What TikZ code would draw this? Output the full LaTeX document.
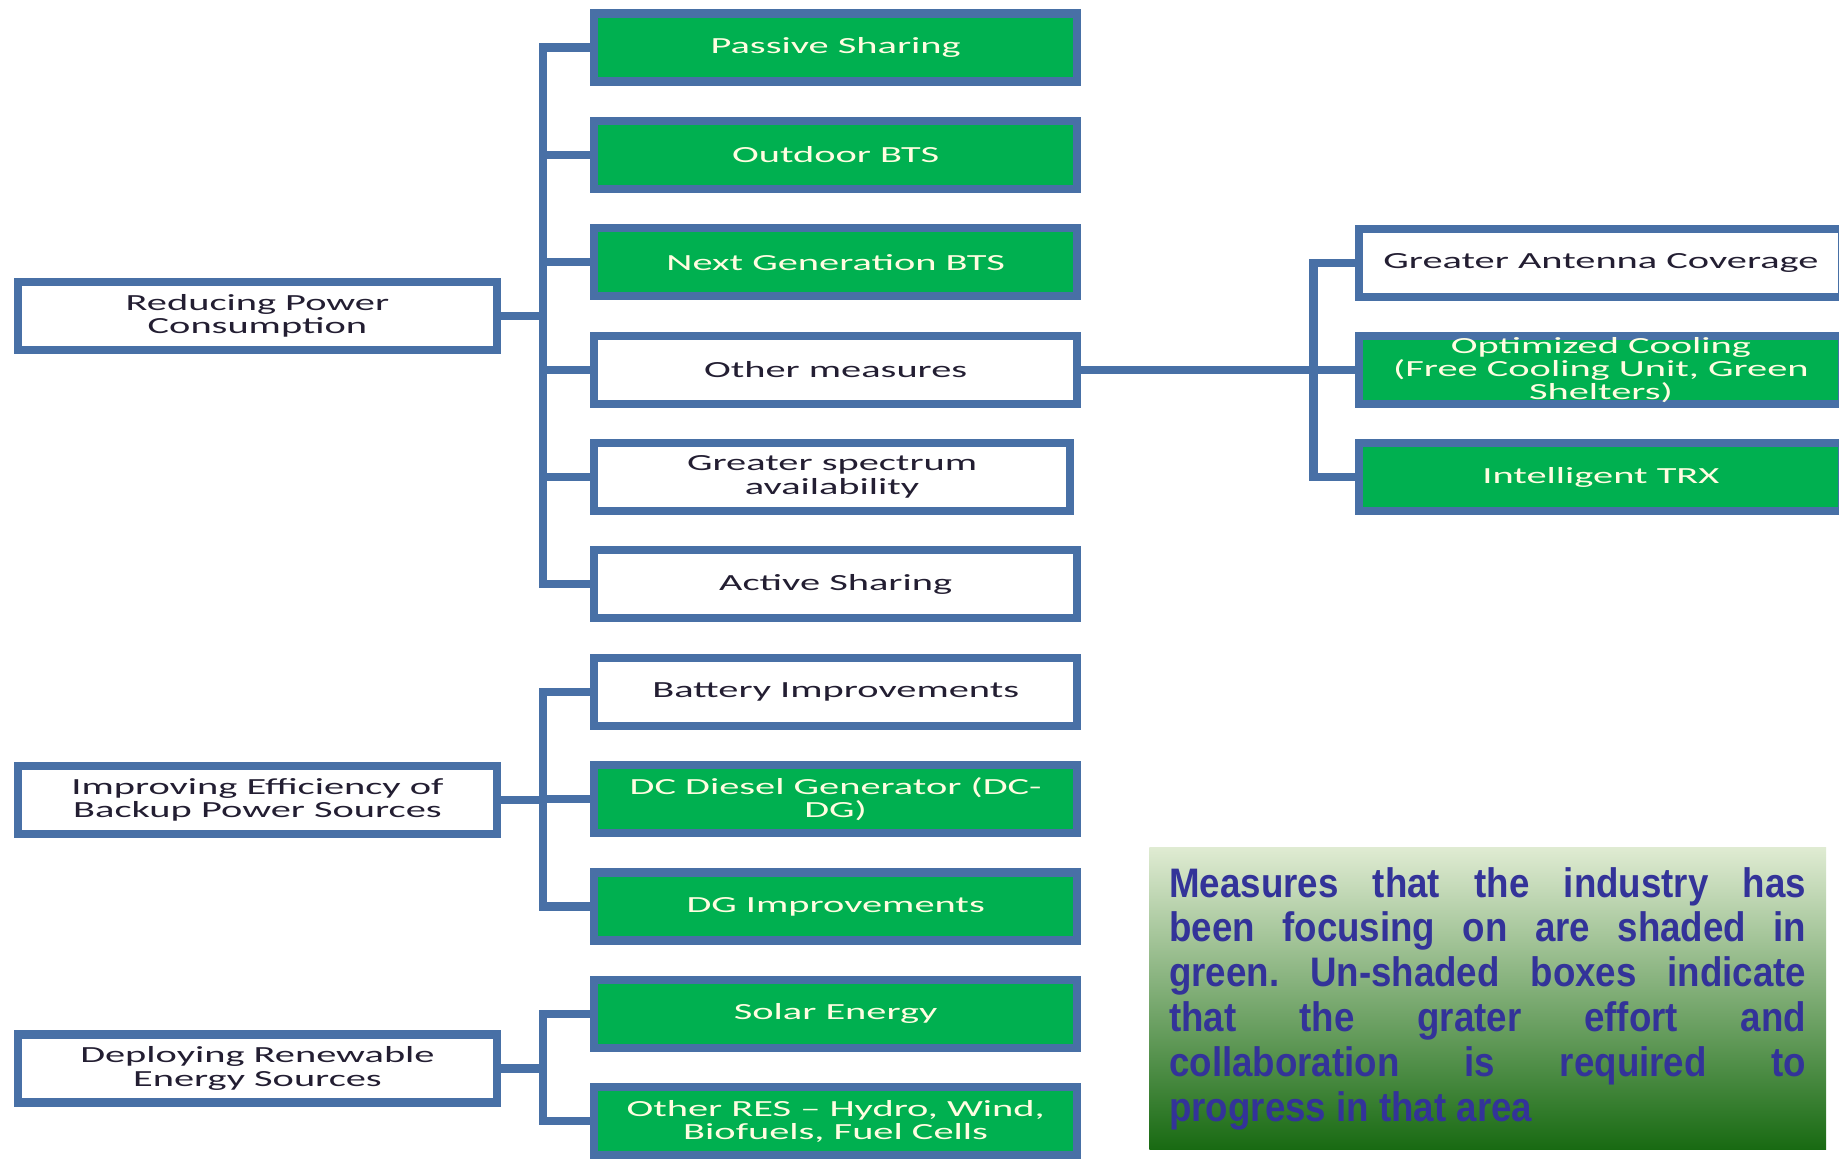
\documentclass[tikz,border=0pt]{standalone}
\usepackage{fontspec}
\newfontfamily\boxfont{Carlito}[FakeStretch=1.75]
\newfontfamily\notefont{Liberation Sans}[FakeStretch=0.89]
\usetikzlibrary{calc}
\definecolor{boxblue}{RGB}{72,112,166}
\definecolor{boxgreen}{RGB}{0,176,80}
\definecolor{notetext}{RGB}{51,51,153}
\definecolor{greentext}{RGB}{255,253,225}
\definecolor{darktext}{RGB}{35,30,50}
\tikzset{
  box/.style={draw=boxblue, line width=5pt, minimum width=10.3cm, minimum height=1.45cm,
    align=center, inner sep=0pt, font=\boxfont\fontsize{14}{14.2}\selectfont},
  plainbox/.style={box, fill=white, text=darktext},
  greenbox/.style={box, fill=boxgreen, text=greentext},
  link/.style={draw=boxblue, line width=5pt},
}

\begin{document}
\frenchspacing
\begin{tikzpicture}[x=0.025cm, y=-0.025cm]
  \useasboundingbox[fill=white] (0,0) rectangle (1568,988);
  %%%%% MIDDLE COLUMN %%%%%
  \node[greenbox] (passive) at (712.5, 40.5) {Passive Sharing};
  \node[greenbox] (outdoor) at (712.5, 132) {Outdoor BTS};
  \node[greenbox] (nextgen) at (712.5, 223.6) {Next Generation BTS};
  \node[plainbox] (other) at (712.5, 315.2) {Other measures};
  \node[plainbox, minimum width=10.15cm] (spectrum) at (709.5, 406.7) {Greater spectrum\\availability};
  \node[plainbox] (active) at (712.5, 498.2) {Active Sharing};
  \node[plainbox] (battery) at (712.5, 589.8) {Battery Improvements};
  \node[greenbox] (dcdg) at (712.5, 681.3) {DC Diesel Generator (DC-\\DG)};
  \node[greenbox] (dgimp) at (712.5, 772.9) {DG Improvements};
  \node[greenbox] (solar) at (712.5, 864.4) {Solar Energy};
  \node[greenbox] (otherres) at (712.5, 956) {Other RES – Hydro, Wind,\\Biofuels, Fuel Cells};
  
  %%%%% LEFT COLUMN %%%%%
  \node[plainbox, minimum width=10.2cm] (reduce) at (219.5, 269.5) {Reducing Power\\Consumption};
  \node[plainbox, minimum width=10.2cm] (backup) at (219.5, 682) {Improving Efficiency of\\Backup Power Sources};
  \node[plainbox, minimum width=10.2cm] (renew) at (219.5, 911) {Deploying Renewable\\Energy Sources};
  
  %%%%% RIGHT COLUMN %%%%%
  \node[plainbox] (antenna) at (1365, 224) {Greater Antenna Coverage};
  \node[greenbox] (cooling) at (1365, 315.5) {Optimized Cooling\\(Free Cooling Unit, Green\\Shelters)};
  \node[greenbox] (trx) at (1365, 407) {Intelligent TRX};
  
  %%%%% CONNECTORS %%%%%
  \coordinate (busA) at (463, 0);
  \coordinate (busB) at (1120, 0);
  
  \draw[link] (reduce.east) -- (reduce.east -| busA);
  \draw[link] (passive.west) -- (passive.west -| busA) -- (active.west -| busA) -- (active.west);
  \foreach \n in {outdoor, nextgen, other, spectrum}
    \draw[link] (\n.west -| busA) -- (\n.west);
  
  \draw[link] (backup.east) -- (backup.east -| busA);
  \draw[link] (battery.west) -- (battery.west -| busA) -- (dgimp.west -| busA) -- (dgimp.west);
  \draw[link] (dcdg.west -| busA) -- (dcdg.west);
  
  \draw[link] (renew.east) -- (renew.east -| busA);
  \draw[link] (solar.west) -- (solar.west -| busA) -- (otherres.west -| busA) -- (otherres.west);
  
  \draw[link] (other.east) -- (other.east -| busB);
  \draw[link] (antenna.west) -- (antenna.west -| busB) -- (trx.west -| busB) -- (trx.west);
  \draw[link] (cooling.west -| busB) -- (cooling.west);
  
  %%%%% NOTE %%%%%
  \node[top color={rgb,255:red,223;green,235;blue,210}, bottom color={rgb,255:red,24;green,106;blue,18},
    minimum width=14.425cm, minimum height=6.425cm, text width=13.575cm, inner xsep=0.425cm,
    align=justify, text=notetext, font=\notefont\bfseries\fontsize{25}{27.2}\selectfont]
    (note) at (1268.5, 851.5)
    {Measures that the industry has\linebreak been focusing on are shaded in\linebreak green. Un-shaded boxes indicate\linebreak that the grater effort and\linebreak collaboration is required to\linebreak progress in that area};
\end{tikzpicture}
\end{document}
